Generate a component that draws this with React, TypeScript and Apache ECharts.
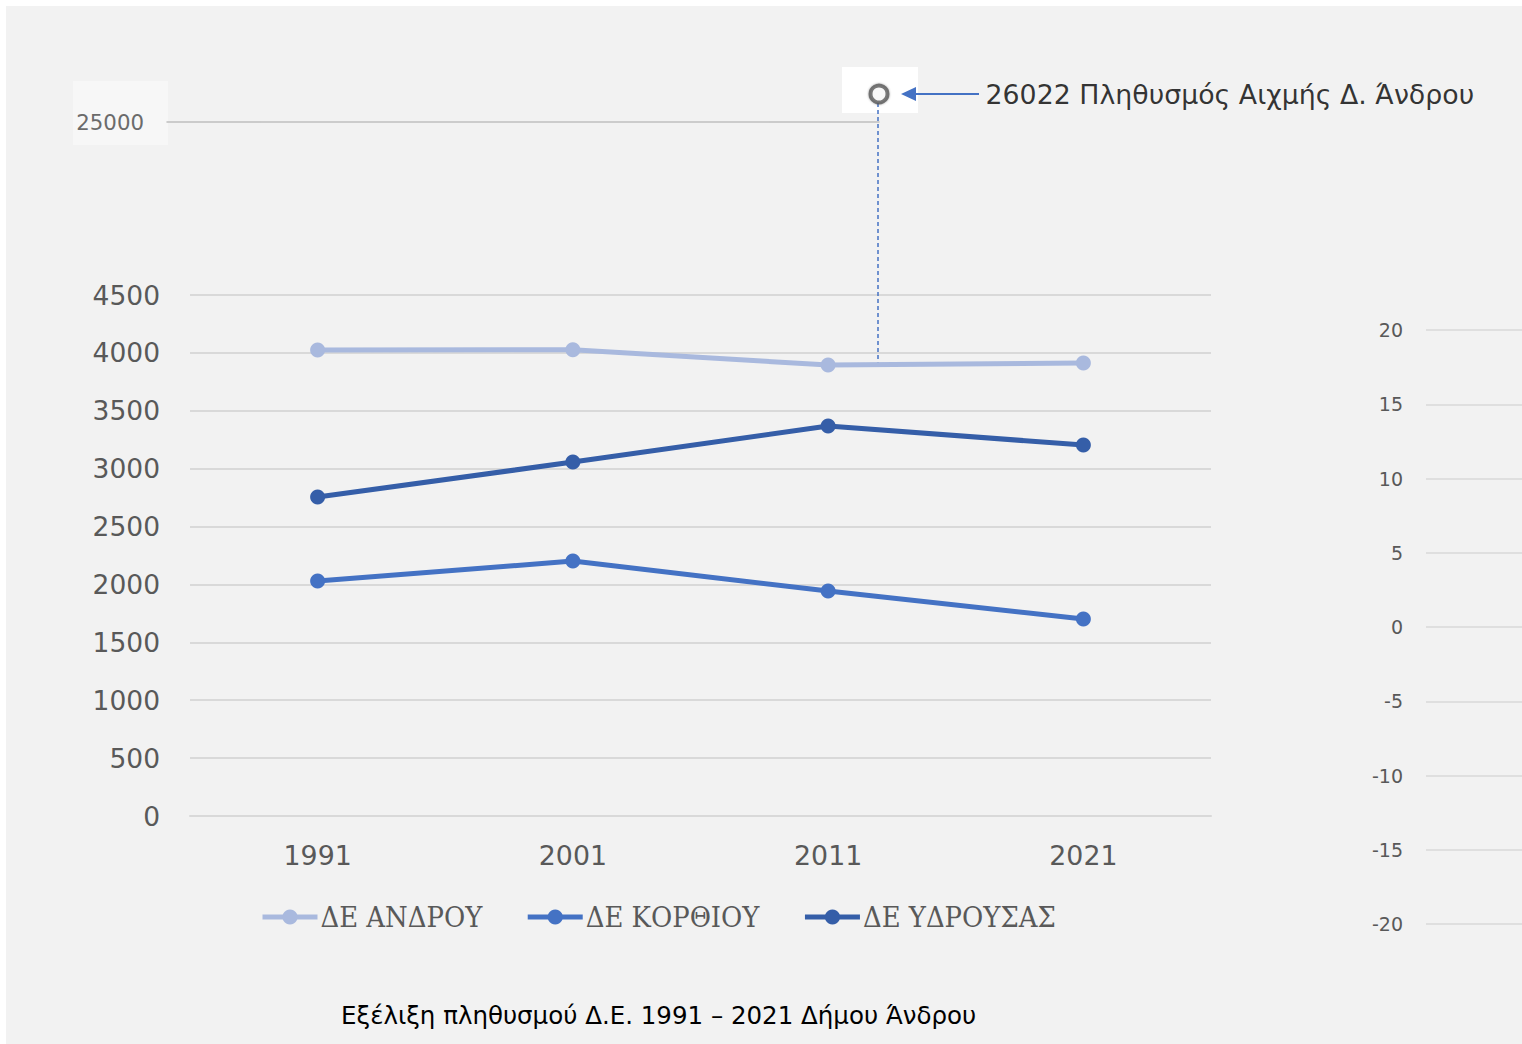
import React, { useEffect, useRef } from "react";
import * as echarts from "echarts";

const years = ["1991", "2001", "2011", "2021"];
const andros = [4025, 4028, 3895, 3913];
const korthi = [2030, 2202, 1943, 1701];
const ydrousa = [2755, 3057, 3368, 3204];
const seriesNames = ["ΔΕ ΑΝΔΡΟΥ", "ΔΕ ΚΟΡΘΙΟΥ", "ΔΕ ΥΔΡΟΥΣΑΣ"];
const seriesColors = ["#a9b9de", "#4472c4", "#355ea8"];
const peakValue = 26022;
const peakBase = 25000;
const peakText = "Πληθυσμός Αιχμής Δ. Άνδρου";
const caption = "Εξέλιξη πληθυσμού Δ.Ε. 1991 – 2021 Δήμου Άνδρου";

const SANS = "'DejaVu Sans', Verdana, sans-serif";
const plain = (v: number) => String(v);

export default function App() {
  const ref = useRef<HTMLDivElement>(null);
  useEffect(() => {
    if (!ref.current) return;
    const chart = echarts.init(ref.current, undefined, { renderer: "svg" });
    const lineSeries = [andros, korthi, ydrousa].map((d, i) => ({
      name: seriesNames[i],
      type: "line",
      xAxisIndex: 0,
      yAxisIndex: 0,
      data: d,
      symbol: "circle",
      symbolSize: 15,
      color: seriesColors[i],
      lineStyle: { width: 5, color: seriesColors[i] },
      itemStyle: { color: seriesColors[i] },
      z: 5,
    }));
    chart.setOption({
      animation: false,
      backgroundColor: "#f2f2f2",
      textStyle: { fontFamily: SANS },
      title: {
        text: caption,
        left: 335,
        top: 994,
        padding: 0,
        textStyle: { fontSize: 24.5, fontWeight: "normal", color: "#000", fontFamily: SANS, lineHeight: 30 },
      },
      legend: {
        data: seriesNames,
        left: 254,
        top: 894,
        padding: 0,
        itemWidth: 55,
        itemHeight: 19,
        itemGap: 43,
        lineStyle: { width: 5 },
        textStyle: {
          fontFamily: "'DejaVu Serif Condensed', 'Liberation Serif', serif",
          fontSize: 28.8,
          color: "#595959",
          lineHeight: 34,
          padding: [0, 0, 0, -2],
        },
      },
      grid: [
        { left: 184, top: 289, width: 1021, height: 521 },
        { left: 1420, top: 324, width: 96, height: 594 },
        { left: 161, top: 88, width: 712, height: 28 },
      ],
      xAxis: [
        {
          type: "category",
          gridIndex: 0,
          data: years,
          boundaryGap: true,
          axisLine: { lineStyle: { color: "#d9d9d9", width: 2 } },
          axisTick: { show: false },
          axisLabel: { fontSize: 26.8, color: "#595959", margin: 26, fontFamily: SANS },
        },
        { type: "value", gridIndex: 1, show: false, min: 0, max: 1 },
        {
          type: "value",
          gridIndex: 2,
          min: 0,
          max: 1,
          axisLine: { show: true, lineStyle: { color: "#bfbfbf", width: 1.5 } },
          axisTick: { show: false },
          axisLabel: { show: false },
          splitLine: { show: false },
        },
      ],
      yAxis: [
        {
          type: "value",
          gridIndex: 0,
          min: 0,
          max: 4500,
          interval: 500,
          axisLine: { show: false },
          axisTick: { show: false },
          axisLabel: { fontSize: 26.5, color: "#595959", margin: 30, fontFamily: SANS, formatter: plain },
          splitLine: { lineStyle: { color: "#d9d9d9", width: 2 } },
        },
        {
          type: "value",
          gridIndex: 1,
          min: -20,
          max: 20,
          interval: 5,
          axisLine: { show: false },
          axisTick: { show: false },
          axisLabel: { fontSize: 19, color: "#595959", margin: 23, fontFamily: SANS, formatter: plain },
          splitLine: { lineStyle: { color: "#d9d9d9", width: 1.5 } },
        },
        {
          type: "value",
          gridIndex: 2,
          min: peakBase,
          max: peakValue,
          interval: 5000,
          axisLine: { show: false },
          axisTick: { show: false },
          splitLine: { show: false },
          z: 5,
          axisLabel: {
            showMinLabel: true,
            showMaxLabel: false,
            fontSize: 21.3,
            color: "#6b6b6b",
            margin: 23,
            fontFamily: SANS,
            formatter: plain,
            padding: [4, 0, 0, 0],
          },
        },
      ],
      graphic: [
        {
          type: "rect",
          z: 0,
          shape: { x: 67, y: 75, width: 95, height: 64 },
          style: { fill: "#f7f7f7" },
        },
        {
          type: "rect",
          z: 1,
          shape: { x: 836, y: 61, width: 76, height: 46 },
          style: { fill: "#ffffff" },
        },
        {
          type: "line",
          z: 1,
          shape: { x1: 872, y1: 97, x2: 872, y2: 359 },
          style: { stroke: "#4472c4", lineWidth: 1.5, lineDash: [4, 3] },
        },
        {
          type: "line",
          z: 1,
          shape: { x1: 907, y1: 88, x2: 973, y2: 88 },
          style: { stroke: "#4472c4", lineWidth: 2 },
        },
        {
          type: "polygon",
          z: 1,
          shape: { points: [[895, 88], [910, 81], [910, 95]] },
          style: { fill: "#4472c4" },
        },
      ],
      series: [
        ...lineSeries,
        {
          type: "scatter",
          xAxisIndex: 2,
          yAxisIndex: 2,
          data: [[1, peakValue]],
          symbol: "circle",
          symbolSize: 17,
          clip: false,
          z: 10,
          itemStyle: { color: "#ffffff", borderColor: "#5a5a5a", borderWidth: 4, shadowBlur: 2, shadowColor: "rgba(0,0,0,0.4)" },
          label: {
            show: true,
            position: "right",
            distance: 96,
            formatter: (p: any) => `${p.value[1]} ${peakText}`,
            fontSize: 26.8,
            color: "#000",
            fontFamily: SANS,
          },
          silent: true,
        },
      ],
    });
    return () => chart.dispose();
  }, []);
  return (
    <div
      ref={ref}
      style={{ position: "fixed", left: 6, top: 6, width: 1516, height: 1038 }}
    />
  );
}
